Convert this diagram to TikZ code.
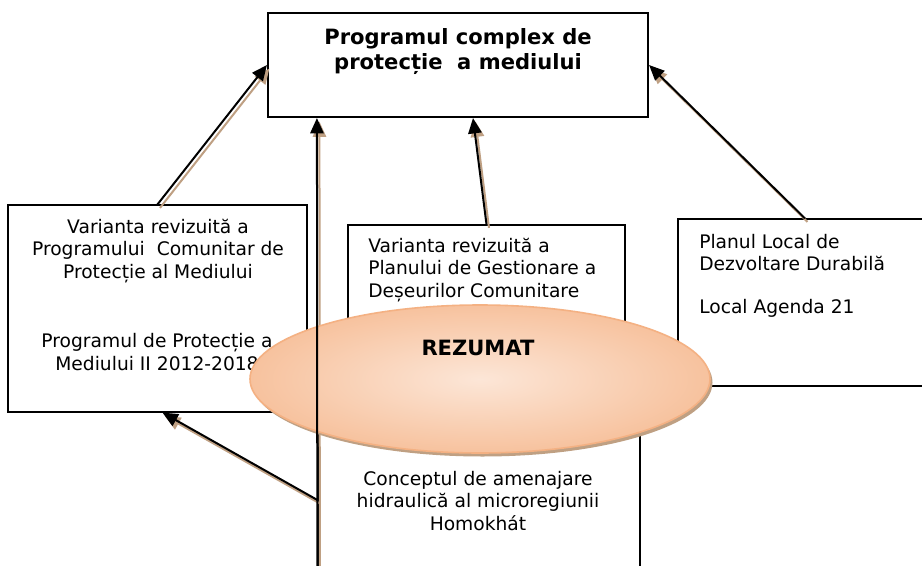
\documentclass[tikz,border=0pt]{standalone}
\usepackage{fontspec}
\setmainfont{DejaVu Sans}
\usetikzlibrary{arrows.meta,shapes.geometric,fit,calc}
\definecolor{peachedge}{HTML}{F4B183}
\definecolor{peachin}{HTML}{FCE6D7}
\definecolor{peachout}{HTML}{F7C29E}
\definecolor{tanshadow}{HTML}{BFA083}
\begin{document}
\begin{tikzpicture}[x=0.75pt,y=-0.75pt,
  box/.style={draw=black, line width=0.9pt, fill=white, inner sep=0pt},
  topbox/.style={box, line width=1.6pt},
  txt/.style={font=\fontsize{14}{16.9}\selectfont, inner sep=0pt, align=center},
  ltxt/.style={txt, align=left},
  btxt/.style={font=\bfseries\fontsize{15.8}{18.75}\selectfont, inner sep=0pt, align=center},
  conn/.style={line width=1.5pt, -{Triangle[length=11.5pt,width=10pt]}},
  connshadow/.style={conn, draw=tanshadow, fill=tanshadow}]
\clip (0,0) rectangle (922,565);
\fill[white] (0,0) rectangle (922,565);
% boxes
\node[box, fit={(8,205) (307,412)}] (left) {};
\node[box, fit={(348,225) (625,360)}] (mid) {};
\node[box, fit={(678,219) (932,386)}] (right) {};
\node[box, fit={(318,400) (640,600)}] (bottom) {};
\node[topbox, fit={(268,13) (648,117)}] (top) {};
% texts
\node[btxt] (ttop) at (458,51.5) {Programul complex de\\protecție\ \ a mediului};
\node[txt] (tleft1) at (158,251) {Varianta revizuită a\\Programului\ \ Comunitar de\\Protecție al Mediului};
\node[txt] (tleft2) at (157,352) {Programul de Protecție a\\Mediului II 2012-2018};
\node[ltxt, anchor=west] (tmid) at (368,270) {Varianta revizuită a\\Planului de Gestionare a\\Deșeurilor Comunitare};
\node[ltxt, anchor=west] (tright1) at (699,252.5) {Planul Local de\\Dezvoltare Durabilă};
\node[ltxt, anchor=west] (tright2) at (699,308) {Local Agenda 21};
\node[txt] (tbottom) at (478,501) {Conceptul de amenajare\\hidraulică al microregiunii\\Homokhát};
% connectors
\coordinate (t1) at (top.west);
\coordinate (t2) at ($(top.south)+(15,0)$);
\coordinate (t3) at (top.east);
\coordinate (t4) at ($(top.south west)+(50,0)$);
\coordinate (l5) at ($(left.south)+(5,0)$);
\foreach \a/\b in {left.north/t1, mid.north/t2, right.north/t3, bottom.west/l5}{
  \draw[connshadow] ([shift={(2.5,3.5)}]\a) -- ([shift={(2.5,3.5)}]\b);
  \draw[conn] (\a) -- (\b);
}
\draw[connshadow] ([shift={(2.5,3.5)}]bottom.south west) -- ([shift={(2.5,3.5)}]t4);
% ellipse
\node[ellipse, fill=tanshadow, minimum width=460*0.75pt, minimum height=148*0.75pt, inner sep=0pt] (rezsh) at (482.5,382.5) {};
\node[ellipse, draw=peachedge, line width=1.2pt, inner color=peachin, outer color=peachout, shade,
  minimum width=460*0.75pt, minimum height=148*0.75pt, inner sep=0pt] (rez) at (480,379) {};
\node[btxt] (trez) at (478,348) {REZUMAT};
\draw[conn] (bottom.south west) -- (t4);
\end{tikzpicture}
\end{document}
